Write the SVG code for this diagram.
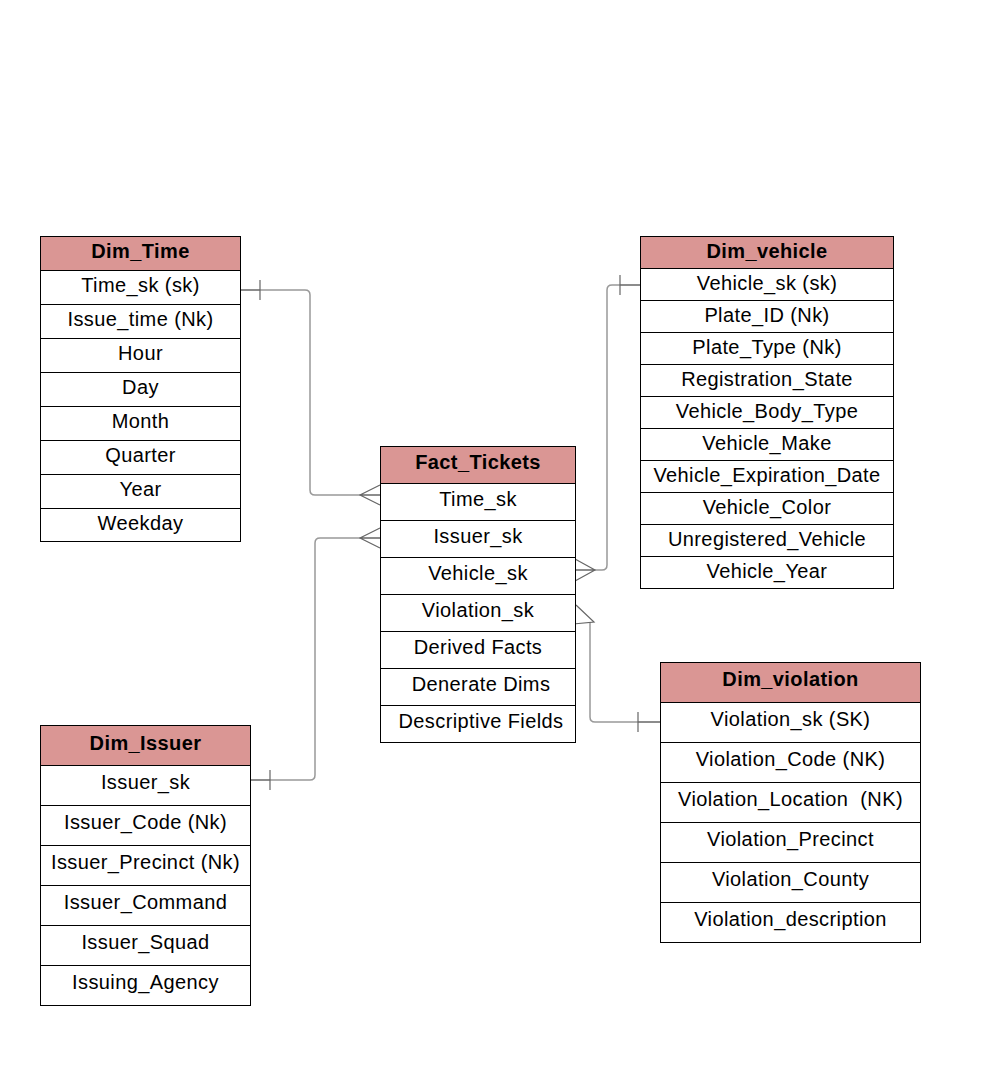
<svg xmlns="http://www.w3.org/2000/svg" width="1007" height="1087" viewBox="0 0 1007 1087">
<style>
.hd{fill:#da9694;stroke:#000;stroke-width:1}
.rw{fill:#fff;stroke:#000;stroke-width:1}
.t{font-family:"Liberation Sans",Arial,sans-serif;font-size:20px;letter-spacing:0.4px;text-anchor:middle;fill:#000}
.b{font-weight:bold}
.cn{fill:none;stroke:#999;stroke-width:1.5}
.cf{fill:none;stroke:#666;stroke-width:1.2}
</style>
<rect width="1007" height="1087" fill="#fff"/>
<g id="connectors">
<path class="cn" d="M240,290 H305 Q310,290 310,295 V490 Q310,495 315,495 H380"/>
<path class="cf" d="M260,280 V300 M240,290 H260 M380,485 L360,495 L380,505 M360,495 H380"/>
<path class="cn" d="M250,780 H310 Q315,780 315,775 V543 Q315,538 320,538 H380"/>
<path class="cf" d="M270,770 V790 M250,780 H270 M380,528 L360,538 L380,548 M360,538 H380"/>
<path class="cn" d="M640,285 H612 Q607,285 607,290 V565 Q607,570 602,570 H575"/>
<path class="cf" d="M620,275 V295 M640,285 H620 M575,559 L595,570 L575,581 M575,570 H595"/>
<path class="cn" d="M660,722 H595 Q590,722 590,717 V622"/>
<path class="cf" d="M638,712 V732 M660,722 H638 M576,605 L594,622 L573,624"/>
</g>
<g id="dim_time">
<rect class="hd" x="40.5" y="236.5" width="200" height="34"/>
<text class="t b" x="140.5" y="258">Dim_Time</text>
<rect class="rw" x="40.5" y="270.5" width="200" height="34"/>
<text class="t" x="140.5" y="292">Time_sk (sk)</text>
<rect class="rw" x="40.5" y="304.5" width="200" height="34"/>
<text class="t" x="140.5" y="326">Issue_time (Nk)</text>
<rect class="rw" x="40.5" y="338.5" width="200" height="34"/>
<text class="t" x="140.5" y="360">Hour</text>
<rect class="rw" x="40.5" y="372.5" width="200" height="34"/>
<text class="t" x="140.5" y="394">Day</text>
<rect class="rw" x="40.5" y="406.5" width="200" height="34"/>
<text class="t" x="140.5" y="428">Month</text>
<rect class="rw" x="40.5" y="440.5" width="200" height="34"/>
<text class="t" x="140.5" y="462">Quarter</text>
<rect class="rw" x="40.5" y="474.5" width="200" height="34"/>
<text class="t" x="140.5" y="496">Year</text>
<rect class="rw" x="40.5" y="508.5" width="200" height="33"/>
<text class="t" x="140.5" y="530">Weekday</text>
</g>
<g id="fact_tickets">
<rect class="hd" x="380.5" y="446.5" width="195" height="37"/>
<text class="t b" x="478" y="469">Fact_Tickets</text>
<rect class="rw" x="380.5" y="483.5" width="195" height="37"/>
<text class="t" x="478" y="506">Time_sk</text>
<rect class="rw" x="380.5" y="520.5" width="195" height="37"/>
<text class="t" x="478" y="543">Issuer_sk</text>
<rect class="rw" x="380.5" y="557.5" width="195" height="37"/>
<text class="t" x="478" y="580">Vehicle_sk</text>
<rect class="rw" x="380.5" y="594.5" width="195" height="37"/>
<text class="t" x="478" y="617">Violation_sk</text>
<rect class="rw" x="380.5" y="631.5" width="195" height="37"/>
<text class="t" x="478" y="654">Derived Facts</text>
<rect class="rw" x="380.5" y="668.5" width="195" height="37"/>
<text class="t" x="481" y="691">Denerate Dims</text>
<rect class="rw" x="380.5" y="705.5" width="195" height="37"/>
<text class="t" x="481" y="728">Descriptive Fields</text>
</g>
<g id="dim_vehicle">
<rect class="hd" x="640.5" y="236.5" width="253" height="32"/>
<text class="t b" x="767" y="257.5">Dim_vehicle</text>
<rect class="rw" x="640.5" y="268.5" width="253" height="32"/>
<text class="t" x="767" y="290">Vehicle_sk (sk)</text>
<rect class="rw" x="640.5" y="300.5" width="253" height="32"/>
<text class="t" x="767" y="322">Plate_ID (Nk)</text>
<rect class="rw" x="640.5" y="332.5" width="253" height="32"/>
<text class="t" x="767" y="354">Plate_Type (Nk)</text>
<rect class="rw" x="640.5" y="364.5" width="253" height="32"/>
<text class="t" x="767" y="386">Registration_State</text>
<rect class="rw" x="640.5" y="396.5" width="253" height="32"/>
<text class="t" x="767" y="418">Vehicle_Body_Type</text>
<rect class="rw" x="640.5" y="428.5" width="253" height="32"/>
<text class="t" x="767" y="450">Vehicle_Make</text>
<rect class="rw" x="640.5" y="460.5" width="253" height="32"/>
<text class="t" x="767" y="482">Vehicle_Expiration_Date</text>
<rect class="rw" x="640.5" y="492.5" width="253" height="32"/>
<text class="t" x="767" y="514">Vehicle_Color</text>
<rect class="rw" x="640.5" y="524.5" width="253" height="32"/>
<text class="t" x="767" y="546">Unregistered_Vehicle</text>
<rect class="rw" x="640.5" y="556.5" width="253" height="32"/>
<text class="t" x="767" y="578">Vehicle_Year</text>
</g>
<g id="dim_violation">
<rect class="hd" x="660.5" y="662.5" width="260" height="40"/>
<text class="t b" x="790.5" y="686">Dim_violation</text>
<rect class="rw" x="660.5" y="702.5" width="260" height="40"/>
<text class="t" x="790.5" y="726">Violation_sk (SK)</text>
<rect class="rw" x="660.5" y="742.5" width="260" height="40"/>
<text class="t" x="790.5" y="766">Violation_Code (NK)</text>
<rect class="rw" x="660.5" y="782.5" width="260" height="40"/>
<text class="t" x="790.5" y="806" xml:space="preserve">Violation_Location  (NK)</text>
<rect class="rw" x="660.5" y="822.5" width="260" height="40"/>
<text class="t" x="790.5" y="846">Violation_Precinct</text>
<rect class="rw" x="660.5" y="862.5" width="260" height="40"/>
<text class="t" x="790.5" y="886">Violation_County</text>
<rect class="rw" x="660.5" y="902.5" width="260" height="40"/>
<text class="t" x="790.5" y="926">Violation_description</text>
</g>
<g id="dim_issuer">
<rect class="hd" x="40.5" y="725.5" width="210" height="40"/>
<text class="t b" x="145.5" y="749.5">Dim_Issuer</text>
<rect class="rw" x="40.5" y="765.5" width="210" height="40"/>
<text class="t" x="145.5" y="789">Issuer_sk</text>
<rect class="rw" x="40.5" y="805.5" width="210" height="40"/>
<text class="t" x="145.5" y="829">Issuer_Code (Nk)</text>
<rect class="rw" x="40.5" y="845.5" width="210" height="40"/>
<text class="t" x="145.5" y="869">Issuer_Precinct (Nk)</text>
<rect class="rw" x="40.5" y="885.5" width="210" height="40"/>
<text class="t" x="145.5" y="909">Issuer_Command</text>
<rect class="rw" x="40.5" y="925.5" width="210" height="40"/>
<text class="t" x="145.5" y="949">Issuer_Squad</text>
<rect class="rw" x="40.5" y="965.5" width="210" height="40"/>
<text class="t" x="145.5" y="989">Issuing_Agency</text>
</g>
</svg>
